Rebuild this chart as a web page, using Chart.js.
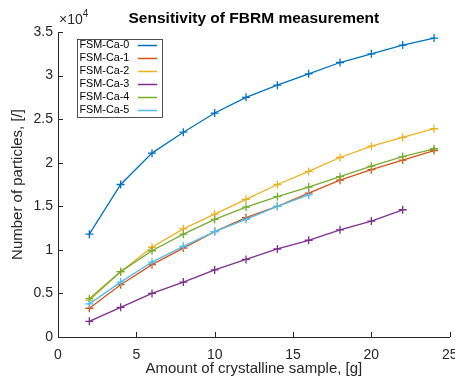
<!DOCTYPE html>
<html>
<head>
<meta charset="utf-8">
<script src="https://cdn.jsdelivr.net/npm/chart.js@4/dist/chart.umd.min.js"></script>
<style>
html,body{margin:0;padding:0;background:#fff;}
#wrap{width:455px;height:383px;position:relative;}
</style>
</head>
<body>
<div id="wrap"><canvas id="c" width="455" height="383"></canvas></div>
<script>
// ---- data ----
const massGrams = [2, 4, 6, 8, 10, 12, 14, 16, 18, 20, 22, 24];
const seriesNames = ['FSM-Ca-0', 'FSM-Ca-1', 'FSM-Ca-2', 'FSM-Ca-3', 'FSM-Ca-4', 'FSM-Ca-5'];
const ca0 = [11800, 17500, 21100, 23500, 25700, 27500, 28900, 30200, 31500, 32500, 33500, 34300];
const ca1 = [3300, 6000, 8300, 10200, 12100, 13700, 15000, 16500, 18000, 19200, 20300, 21400];
const ca2 = [4200, 7500, 10300, 12400, 14100, 15800, 17500, 19000, 20600, 21900, 22900, 23900];
const ca3 = [1800, 3400, 5000, 6300, 7700, 8900, 10100, 11100, 12300, 13300, 14600];
const ca4 = [4400, 7500, 9900, 11800, 13500, 14900, 16100, 17200, 18400, 19600, 20700, 21600];
const ca5 = [3800, 6300, 8600, 10400, 12100, 13500, 15000, 16300];
const xTicks = [0, 5, 10, 15, 20, 25];
const yTickLabels = ['0', '0.5', '1', '1.5', '2', '2.5', '3', '3.5'];
const colors = ['#0072BD', '#D95319', '#EDB120', '#7E2F8E', '#77AC30', '#4DBEEE'];

const allSeries = [ca0, ca1, ca2, ca3, ca4, ca5];
const N = allSeries.length;
const datasets = allSeries.map((vals, i) => ({
  label: seriesNames[i],
  data: vals.map((v, k) => ({x: massGrams[k], y: v})),
  borderColor: colors[i],
  backgroundColor: colors[i],
  borderWidth: 1.3,
  pointStyle: 'cross',
  pointRadius: 4,
  pointBorderWidth: 1.3,
  pointHoverRadius: 4,
  tension: 0,
  fill: false,
  order: N - 1 - i
}));

const AX = '#262626';
const FONT = 'Liberation Sans, Arial, Helvetica, sans-serif';

const decorPlugin = {
  id: 'decor',
  afterDraw(chart) {
    const ctx = chart.ctx;
    const xs = chart.scales.x, ys = chart.scales.y;
    const a = chart.chartArea;
    ctx.save();
    // inside ticks
    ctx.strokeStyle = AX; ctx.lineWidth = 1;
    xs.ticks.forEach(t => {
      const px = Math.round(xs.getPixelForValue(t.value)) + 0.5;
      ctx.beginPath(); ctx.moveTo(px, a.bottom); ctx.lineTo(px, a.bottom - 5); ctx.stroke();
    });
    ys.ticks.forEach(t => {
      const py = Math.round(ys.getPixelForValue(t.value)) + 0.5;
      ctx.beginPath(); ctx.moveTo(a.left, py); ctx.lineTo(a.left + 5, py); ctx.stroke();
    });
    // title
    ctx.fillStyle = '#000';
    ctx.font = 'bold 15.5px ' + FONT;
    ctx.textAlign = 'center'; ctx.textBaseline = 'middle';
    ctx.fillText('Sensitivity of FBRM measurement', (a.left + a.right) / 2, 19);
    // exponent
    ctx.fillStyle = AX;
    ctx.font = '14px ' + FONT;
    ctx.textAlign = 'left'; ctx.textBaseline = 'middle';
    ctx.fillText('\u00d710', a.left + 1, 20);
    const w = ctx.measureText('\u00d710').width;
    ctx.font = '10px ' + FONT;
    ctx.fillText('4', a.left + 1 + w, 14);
    // legend
    const lx = 77, ly = 39, lw = 85, lh = 78;
    ctx.fillStyle = '#fff';
    ctx.fillRect(lx, ly, lw, lh);
    ctx.strokeStyle = AX; ctx.lineWidth = 0.8;
    ctx.strokeRect(lx + 0.5, ly + 0.5, lw, lh);
    ctx.font = '10.8px ' + FONT;
    chart.data.datasets.forEach((ds, i) => {
      const cy = ly + 6.5 + i * 13;
      ctx.fillStyle = '#000';
      ctx.textAlign = 'left'; ctx.textBaseline = 'middle';
      ctx.fillText(ds.label, lx + 2.5, cy);
      ctx.strokeStyle = ds.borderColor; ctx.lineWidth = 1.5;
      ctx.beginPath(); ctx.moveTo(lx + 61, cy); ctx.lineTo(lx + 80, cy); ctx.stroke();
    });
    ctx.restore();
  }
};

new Chart(document.getElementById('c'), {
  type: 'line',
  data: {datasets},
  options: {
    responsive: false,
    animation: false,
    devicePixelRatio: 1,
    layout: {padding: {top: 32, right: 5, left: 0, bottom: 0}},
    plugins: {legend: {display: false}, tooltip: {enabled: false}, title: {display: false}},
    scales: {
      x: {
        type: 'linear', min: 0, max: 25,
        afterBuildTicks(s) { s.ticks = xTicks.map(v => ({value: v})); },
        afterFit(s) { s.height = 46; s.paddingLeft = 0; s.paddingRight = 0; },
        grid: {display: false, drawTicks: false},
        border: {display: true, color: AX, width: 1},
        ticks: {color: AX, font: {family: FONT, size: 14}, padding: 10, maxRotation: 0, autoSkip: false},
        title: {display: true, text: 'Amount of crystalline sample, [g]', color: AX,
                font: {family: FONT, size: 15}, padding: {top: 0, bottom: 5}}
      },
      y: {
        type: 'linear', min: 0, max: 35000,
        afterBuildTicks(s) { s.ticks = yTickLabels.map((l, i) => ({value: i * 5000})); },
        afterFit(s) { s.width = 58; },
        grid: {display: false, drawTicks: false},
        border: {display: true, color: AX, width: 1},
        ticks: {color: AX, font: {family: FONT, size: 14}, padding: 5, autoSkip: false,
                callback: (v) => yTickLabels[Math.round(v / 5000)]},
        title: {display: true, text: 'Number of particles, [/]', color: AX,
                font: {family: FONT, size: 15}, padding: {top: 9, bottom: 0}}
      }
    }
  },
  plugins: [decorPlugin]
});
</script>
</body>
</html>
